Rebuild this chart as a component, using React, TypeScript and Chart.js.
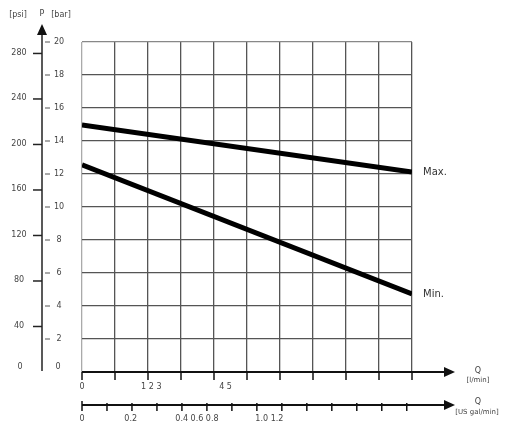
import React, { useEffect, useRef } from "react";
import { Chart, registerables } from "chart.js";

Chart.register(...registerables);

// Flow in l/min (x), pressure in bar (y)
const flowLpm = [0, 10];
const maxBar = [14.97, 12.12];
const minBar = [12.55, 4.73];

const barTicks = [0, 2, 4, 6, 8, 10, 12, 14, 16, 18, 20];
const psiTicks = [0, 40, 80, 120, 160, 200, 240, 280];
const lpmTicks = [0, 1, 2, 3, 4, 5, 6, 7, 8, 9, 10];
const lpmLabels = [
  { v: 0, t: "0" },
  { v: 2.1, t: "1 2 3" },
  { v: 4.35, t: "4 5" },
];
const galTicks = [0, 0.2, 0.4, 0.6, 0.8, 1.0, 1.2, 1.4, 1.6, 1.8, 2.0, 2.2, 2.4, 2.6];
const galLabels = [
  { v: 0, t: "0" },
  { v: 0.39, t: "0.2" },
  { v: 0.92, t: "0.4 0.6 0.8" },
  { v: 1.5, t: "1.0 1.2" },
];

const PSI_PER_BAR = 14.5038;
const L_PER_GAL = 3.785;

const axesPlugin = {
  id: "techAxes",
  afterDraw(chart: any) {
    const ctx = chart.ctx as CanvasRenderingContext2D;
    const xs = chart.scales.x;
    const ys = chart.scales.y;
    const area = chart.chartArea;
    const axisX = 42;
    const arrowEnd = 455;
    const galY = area.bottom + 33;
    ctx.save();
    ctx.strokeStyle = "#222";
    ctx.fillStyle = "#111";
    ctx.lineWidth = 1.5;

    // vertical pressure axis
    ctx.beginPath();
    ctx.moveTo(axisX, ys.getPixelForValue(0) - 1);
    ctx.lineTo(axisX, 33);
    ctx.stroke();
    ctx.beginPath();
    ctx.moveTo(axisX, 24);
    ctx.lineTo(axisX - 5, 35);
    ctx.lineTo(axisX + 5, 35);
    ctx.closePath();
    ctx.fill();

    // bar ticks (right side)
    ctx.font = "8px 'DejaVu Sans', sans-serif";
    ctx.textBaseline = "middle";
    ctx.textAlign = "center";
    ctx.lineWidth = 1;
    ctx.strokeStyle = "#555";
    barTicks.forEach((b) => {
      const y = ys.getPixelForValue(b);
      ctx.fillStyle = "#444";
      if (b > 0) {
        ctx.beginPath();
        ctx.moveTo(axisX + 3, y);
        ctx.lineTo(axisX + 8, y);
        ctx.stroke();
        ctx.fillText(String(b), 59, y);
      } else {
        ctx.fillText("0", 58, y - 5);
      }
    });
    // psi ticks (left side)
    ctx.strokeStyle = "#222";
    ctx.lineWidth = 1.5;
    psiTicks.forEach((p) => {
      const y = ys.getPixelForValue(p / PSI_PER_BAR);
      ctx.fillStyle = "#444";
      if (p > 0) {
        ctx.beginPath();
        ctx.moveTo(axisX - 9, y);
        ctx.lineTo(axisX, y);
        ctx.stroke();
        ctx.fillText(String(p), 19, y - 1);
      } else {
        ctx.fillText("0", 20, y - 5);
      }
    });
    // header
    ctx.fillStyle = "#444";
    ctx.fillText("[psi]", 18, 15);
    ctx.fillText("P", 42, 14);
    ctx.fillText("[bar]", 61, 15);

    // l/min axis
    ctx.strokeStyle = "#111";
    ctx.lineWidth = 2;
    ctx.beginPath();
    ctx.moveTo(area.left, area.bottom);
    ctx.lineTo(arrowEnd - 8, area.bottom);
    ctx.stroke();
    ctx.beginPath();
    ctx.moveTo(arrowEnd, area.bottom);
    ctx.lineTo(arrowEnd - 11, area.bottom - 5);
    ctx.lineTo(arrowEnd - 11, area.bottom + 5);
    ctx.closePath();
    ctx.fillStyle = "#111";
    ctx.fill();
    ctx.lineWidth = 1.5;
    lpmTicks.forEach((v) => {
      const x = xs.getPixelForValue(v);
      ctx.beginPath();
      ctx.moveTo(x, area.bottom);
      ctx.lineTo(x, area.bottom + 8);
      ctx.stroke();
    });
    ctx.fillStyle = "#444";
    lpmLabels.forEach((l) => {
      ctx.fillText(l.t, xs.getPixelForValue(l.v), area.bottom + 15);
    });
    ctx.fillText("Q", 478, area.bottom - 1);
    ctx.font = "7px 'DejaVu Sans', sans-serif";
    ctx.fillText("[l/min]", 478, area.bottom + 8);

    // US gal/min axis
    ctx.font = "8px 'DejaVu Sans', sans-serif";
    ctx.strokeStyle = "#111";
    ctx.lineWidth = 2;
    ctx.beginPath();
    ctx.moveTo(area.left, galY);
    ctx.lineTo(arrowEnd - 8, galY);
    ctx.stroke();
    ctx.beginPath();
    ctx.moveTo(arrowEnd, galY);
    ctx.lineTo(arrowEnd - 11, galY - 5);
    ctx.lineTo(arrowEnd - 11, galY + 5);
    ctx.closePath();
    ctx.fillStyle = "#111";
    ctx.fill();
    ctx.lineWidth = 1.5;
    galTicks.forEach((g) => {
      const x = xs.getPixelForValue(g * L_PER_GAL);
      ctx.beginPath();
      ctx.moveTo(x, g === 0 ? galY - 4 : galY - 2);
      ctx.lineTo(x, galY + 6);
      ctx.stroke();
    });
    ctx.fillStyle = "#444";
    galLabels.forEach((l) => {
      ctx.fillText(l.t, xs.getPixelForValue(l.v * L_PER_GAL), galY + 14);
    });
    ctx.fillText("Q", 478, galY - 3);
    ctx.font = "7px 'DejaVu Sans', sans-serif";
    ctx.fillText("[US gal/min]", 477, galY + 7);

    // series labels
    ctx.font = "10px 'DejaVu Sans', sans-serif";
    ctx.fillStyle = "#333";
    ctx.textAlign = "left";
    ctx.fillText("Max.", area.right + 11, ys.getPixelForValue(maxBar[1]));
    ctx.fillText("Min.", area.right + 11, ys.getPixelForValue(minBar[1]));
    ctx.restore();
  },
};

export default function App() {
  const ref = useRef<HTMLCanvasElement>(null);
  useEffect(() => {
    if (!ref.current) return;
    const chart = new Chart(ref.current, {
      type: "line",
      data: {
        datasets: [
          {
            label: "Max.",
            data: flowLpm.map((x, i) => ({ x, y: maxBar[i] })),
            borderColor: "#000",
            borderWidth: 5,
            pointRadius: 0,
            fill: false,
          },
          {
            label: "Min.",
            data: flowLpm.map((x, i) => ({ x, y: minBar[i] })),
            borderColor: "#000",
            borderWidth: 5,
            pointRadius: 0,
            fill: false,
          },
        ],
      },
      options: {
        responsive: false,
        animation: false,
        layout: { padding: { left: 82, right: 95, top: 42, bottom: 54 } },
        plugins: { legend: { display: false }, tooltip: { enabled: false } },
        scales: {
          x: {
            type: "linear",
            min: 0,
            max: 10,
            ticks: { display: false, stepSize: 1 },
            border: { display: false },
            grid: {
              drawTicks: false,
              lineWidth: 1.3,
              color: (c: any) => (c.tick && c.tick.value === 0 ? "#aaa" : "#555"),
            },
          },
          y: {
            type: "linear",
            min: 0,
            max: 20,
            ticks: { display: false, stepSize: 2 },
            border: { display: false },
            grid: {
              drawTicks: false,
              lineWidth: 1.3,
              color: (c: any) => (c.tick && c.tick.value === 20 ? "#888" : "#555"),
            },
          },
        },
      },
      plugins: [axesPlugin],
    });
    return () => chart.destroy();
  }, []);
  return (
    <div style={{ position: "fixed", left: 0, top: 0, width: 507, height: 426, background: "#fff" }}>
      <canvas ref={ref} width={507} height={426} />
    </div>
  );
}
